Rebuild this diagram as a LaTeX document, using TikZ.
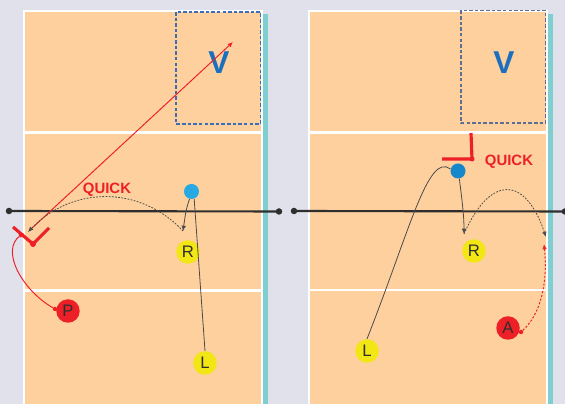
\documentclass[tikz,border=0pt]{standalone}
\usepackage{fontspec}
\setmainfont{Liberation Sans}
\usetikzlibrary{arrows.meta}
\definecolor{bg}{HTML}{E1E1EC}
\definecolor{court}{HTML}{FDD09D}
\definecolor{tealc}{HTML}{80CFD0}
\definecolor{netc}{HTML}{2E2E2E}
\definecolor{lin}{HTML}{4A4A4A}
\definecolor{redc}{HTML}{EE2027}
\definecolor{yelc}{HTML}{F2E614}
\definecolor{blue1}{HTML}{29A9E1}
\definecolor{blue2}{HTML}{1588CC}
\definecolor{vblue}{HTML}{1A6FBF}
\definecolor{dash1}{HTML}{3C6DB8}
\definecolor{dash2}{HTML}{5D6E95}
\tikzset{
  player/.style={circle,inner sep=0pt,minimum size=0.47cm,font=\fontsize{9.5}{9.5}\selectfont,text=netc},
  yel/.style={player,fill=yelc},
  redp/.style={player,fill=redc},
  ball/.style={circle,inner sep=0pt,minimum size=0.3cm},
  netline/.style={netc,line width=1.2pt},
  netdot/.style={circle,fill=netc,inner sep=0pt,minimum size=0.13cm},
  thinline/.style={lin,line width=0.45pt},
  dotarc/.style={lin,line width=0.45pt,dash pattern=on 1pt off 0.8pt},
  arr/.style={-{Latex[length=3pt,width=2.6pt]}},
  setmark/.style={redc,line width=1.8pt},
  quick/.style={text=redc,font=\bfseries\fontsize{8.5}{8.5}\selectfont},
  vlab/.style={text=vblue,font=\bfseries\fontsize{18}{18}\selectfont},
  reddot/.style={circle,fill=redc,inner sep=0pt,minimum size=0.09cm},
}
\begin{document}
\begin{tikzpicture}[x=0.02cm,y=-0.02cm]
\fill[bg] (0,0) rectangle (565,404);
\useasboundingbox (0,0) rectangle (565,404);
% ---- left court
\fill[white] (23,10) rectangle (263,404);
\fill[court] (25,12) rectangle (261,404);
\fill[tealc] (263,14) rectangle (268,404);
\fill[white] (25,131.5) rectangle (261,134);
\fill[white] (25,289.5) rectangle (261,292);
\draw[dash1,line width=0.6pt,dash pattern=on 2pt off 1.2pt] (176,12) rectangle (260.5,124);
\node[vlab] (v1) at (219,63) {V};
% ---- right court
\fill[white] (308,10) rectangle (548,404);
\fill[court] (310,12) rectangle (546,404);
\fill[tealc] (548,14) rectangle (553,404);
\fill[white] (310,131.5) rectangle (546,134);
\fill[white] (310,289) rectangle (546,291.5);
\draw[dash2,line width=0.6pt,dash pattern=on 2pt off 1.2pt] (461,10.5) rectangle (545.5,123);
\node[vlab] (v2) at (504,63) {V};
% ---- nets
\node[netdot] (n1a) at (9,211) {};
\node[netdot] (n1b) at (279,211.5) {};
\draw[netline] (n1a.center) -- (n1b.center);
\node[netdot] (n2a) at (294,211) {};
\node[netdot] (n2b) at (565,211.5) {};
\draw[netline] (n2a.center) -- (n2b.center);
% ---- left players
\node[ball,fill=blue1] (b1) at (191.5,191.5) {};
\node[yel] (r1) at (188,252) {R};
\node[yel] (l1) at (205,363) {L};
\node[redp] (p1) at (68,311) {P};
\node[quick] (q1) at (107,189.5) {QUICK};
% setter mark
\coordinate (m1a) at (13,227);
\coordinate (m1v) at (33,244);
\coordinate (m1b) at (49,228);
\draw[setmark] (m1a) -- (m1v) -- (m1b);
\node[reddot,minimum size=0.12cm] (m1d) at (m1v) {};
% red set arrow
\coordinate (s1) at (30,230);
\coordinate (t1) at (233,42);
\draw[redc,line width=0.55pt,arr] (s1) -- (t1);
% ball paths
\coordinate (r1t) at (183,231);
\coordinate (q1e) at (28,232);
\draw[thinline,arr] (b1.-105) .. controls (186,210) .. (r1t);
\draw[dotarc,arr] (r1t) .. controls (140,185) and (72,186) .. (q1e);
\draw[thinline] (b1.-70) -- (l1.north);
% P path
\node[reddot] (p1d) at (55,309) {};
\coordinate (p1e) at (24,233);
\draw[redc,line width=0.55pt,arr] (p1d) .. controls (22,290) and (0,250) .. (p1e);
% ---- right players
\node[ball,fill=blue2] (b2) at (458,171) {};
\node[yel] (r2) at (474,251) {R};
\node[yel] (l2) at (367,351) {L};
\node[redp] (a2) at (508,328) {A};
\node[quick] (q2) at (509,162) {QUICK};
\coordinate (m2a) at (442,159);
\coordinate (m2v) at (472,159);
\coordinate (m2b) at (471,133);
\draw[setmark] (m2a) -- (m2v) -- (m2b);
\node[reddot,minimum size=0.1cm] (m2d) at (m2v) {};
\draw[thinline] (l2.north) .. controls (410,230) and (428,152) .. (b2.165);
\coordinate (r2t) at (464,234);
\coordinate (e2) at (546,237);
\draw[thinline,arr] (b2.-80) .. controls (462,200) and (464,215) .. (r2t);
\draw[dotarc,arr] (r2t) .. controls (490,175) and (525,175) .. (e2);
\node[reddot] (a2d) at (521,332) {};
\coordinate (a2e) at (544,244);
\draw[redc,line width=0.55pt,dash pattern=on 1.2pt off 1pt,arr] (a2d) .. controls (545,310) and (547,272) .. (a2e);
\end{tikzpicture}
\end{document}
